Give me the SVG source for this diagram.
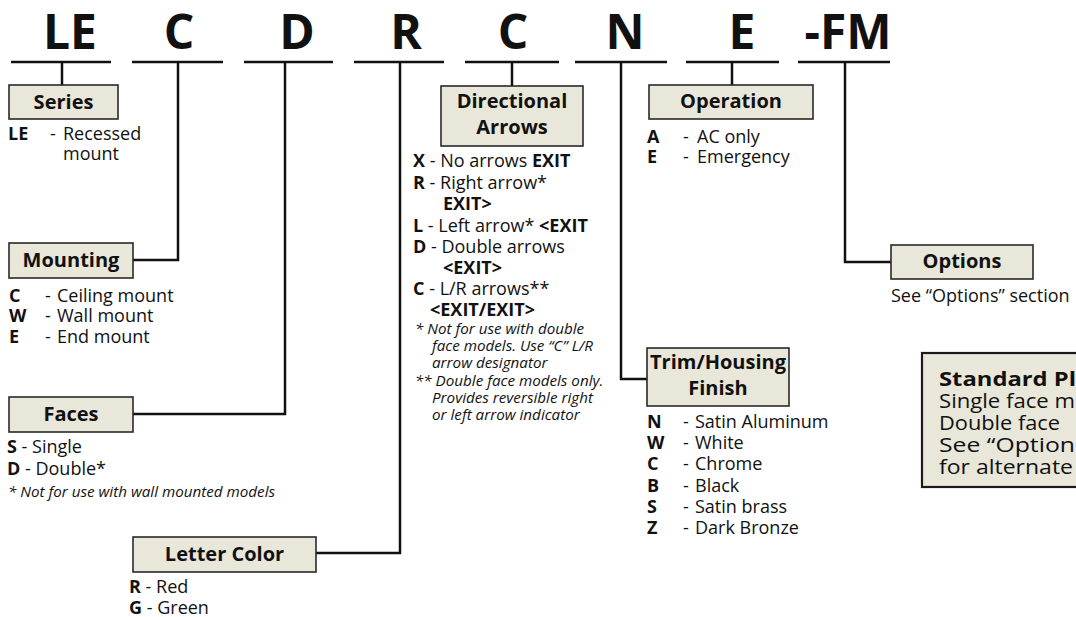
<svg xmlns="http://www.w3.org/2000/svg" width="1076" height="617" viewBox="0 0 1076 617">
  <style>
    text { font-family: "Open Sans", "Noto Sans", "Liberation Sans", sans-serif; fill: #111; }
    .hdr { font-size: 48px; font-weight: 700; text-anchor: middle; }
    .lbl { font-size: 20px; font-weight: 700; text-anchor: middle; }
    .it { font-size: 18px; }
    .b { font-weight: 700; }
    .fn { font-size: 15.2px; font-style: italic; }
    .pk { font-size: 20px; }
    .box { fill: #e9e7d9; stroke: #2a2a2a; stroke-width: 1.6; }
    .std { fill: #e9e7d9; stroke: #1a1a1a; stroke-width: 2.2; }
    .ln { fill: none; stroke: #111; stroke-width: 2.5; }
  </style>

  <!-- catalog code header -->
  <g id="header">
    <text class="hdr" x="70" y="49">LE</text>
    <text class="hdr" x="179" y="49">C</text>
    <text class="hdr" x="297" y="49">D</text>
    <text class="hdr" x="406" y="49">R</text>
    <text class="hdr" x="513" y="49">C</text>
    <text class="hdr" x="625" y="49">N</text>
    <text class="hdr" x="742" y="49">E</text>
    <text class="hdr" x="848" y="49">-FM</text>
  </g>

  <!-- underlines and leader lines -->
  <g id="connectors">
    <path class="ln" d="M11 62H111 M132 62H223 M244 62H333 M354 62H444 M465 62H559 M575 62H667 M686 62H779 M798 62H890"/>
    <path class="ln" d="M62 62V85"/>
    <path class="ln" d="M178 62V260H133"/>
    <path class="ln" d="M285 62V414H133"/>
    <path class="ln" d="M400 62V553H316"/>
    <path class="ln" d="M512 62V86"/>
    <path class="ln" d="M621 62V379H647"/>
    <path class="ln" d="M732 62V85"/>
    <path class="ln" d="M845 62V262H891"/>
  </g>

  <g id="series">
    <rect class="box" x="9" y="85" width="109" height="34"/>
    <text class="lbl" x="63.5" y="109">Series</text>
    <text class="it" y="140"><tspan class="b" x="8">LE</tspan><tspan x="50">-</tspan><tspan x="63">Recessed</tspan></text>
    <text class="it" x="63" y="160">mount</text>
  </g>

  <g id="mounting">
    <rect class="box" x="9" y="243" width="124" height="35"/>
    <text class="lbl" x="71" y="267">Mounting</text>
    <text class="it" y="302"><tspan class="b" x="9">C</tspan><tspan x="45">-</tspan><tspan x="57">Ceiling mount</tspan></text>
    <text class="it" y="322"><tspan class="b" x="9">W</tspan><tspan x="45">-</tspan><tspan x="57">Wall mount</tspan></text>
    <text class="it" y="343"><tspan class="b" x="9">E</tspan><tspan x="45">-</tspan><tspan x="57">End mount</tspan></text>
  </g>

  <g id="faces">
    <rect class="box" x="9" y="397" width="124" height="35"/>
    <text class="lbl" x="71" y="421">Faces</text>
    <text class="it" x="7" y="453"><tspan class="b">S</tspan> - Single</text>
    <text class="it" x="7" y="475"><tspan class="b">D</tspan> - Double*</text>
    <text class="fn" x="8" y="497">*  Not for use with wall mounted models</text>
  </g>

  <g id="letter-color">
    <rect class="box" x="133" y="537" width="183" height="35"/>
    <text class="lbl" x="224.5" y="561">Letter Color</text>
    <text class="it" x="129" y="593"><tspan class="b">R</tspan> - Red</text>
    <text class="it" x="129" y="614"><tspan class="b">G</tspan> - Green</text>
  </g>

  <g id="directional-arrows">
    <rect class="box" x="441" y="86" width="142" height="60"/>
    <text class="lbl" x="512" y="108">Directional</text>
    <text class="lbl" x="512" y="134">Arrows</text>
    <text class="it" x="413" y="167"><tspan class="b">X</tspan> - No arrows <tspan class="b">EXIT</tspan></text>
    <text class="it" x="413" y="189"><tspan class="b">R</tspan> - Right arrow*</text>
    <text class="it b" x="443" y="210">EXIT&gt;</text>
    <text class="it" x="413" y="232"><tspan class="b">L</tspan> - Left arrow* <tspan class="b">&lt;EXIT</tspan></text>
    <text class="it" x="413" y="253"><tspan class="b">D</tspan> - Double arrows</text>
    <text class="it b" x="443" y="274">&lt;EXIT&gt;</text>
    <text class="it" x="413" y="295"><tspan class="b">C</tspan> - L/R arrows**</text>
    <text class="it b" x="430" y="316">&lt;EXIT/EXIT&gt;</text>
    <text class="fn" x="415" y="334">*  Not for use with double</text>
    <text class="fn" x="432" y="351">face models.  Use “C” L/R</text>
    <text class="fn" x="432" y="368">arrow designator</text>
    <text class="fn" x="415" y="386">**  Double face models only.</text>
    <text class="fn" x="432" y="403">Provides reversible right</text>
    <text class="fn" x="432" y="420">or left arrow indicator</text>
  </g>

  <g id="operation">
    <rect class="box" x="649" y="85" width="164" height="34"/>
    <text class="lbl" x="731" y="108">Operation</text>
    <text class="it" y="143"><tspan class="b" x="647">A</tspan><tspan x="683">-</tspan><tspan x="697">AC only</tspan></text>
    <text class="it" y="163"><tspan class="b" x="647">E</tspan><tspan x="683">-</tspan><tspan x="697">Emergency</tspan></text>
  </g>

  <g id="trim-housing-finish">
    <rect class="box" x="647" y="348" width="142" height="58"/>
    <text class="lbl" x="718" y="369">Trim/Housing</text>
    <text class="lbl" x="718" y="395">Finish</text>
    <text class="it" y="428"><tspan class="b" x="647">N</tspan><tspan x="683">-</tspan><tspan x="695">Satin Aluminum</tspan></text>
    <text class="it" y="449"><tspan class="b" x="647">W</tspan><tspan x="683">-</tspan><tspan x="695">White</tspan></text>
    <text class="it" y="470"><tspan class="b" x="647">C</tspan><tspan x="683">-</tspan><tspan x="695">Chrome</tspan></text>
    <text class="it" y="492"><tspan class="b" x="647">B</tspan><tspan x="683">-</tspan><tspan x="695">Black</tspan></text>
    <text class="it" y="513"><tspan class="b" x="647">S</tspan><tspan x="683">-</tspan><tspan x="695">Satin brass</tspan></text>
    <text class="it" y="534"><tspan class="b" x="647">Z</tspan><tspan x="683">-</tspan><tspan x="695">Dark Bronze</tspan></text>
  </g>

  <g id="options">
    <rect class="box" x="891" y="245" width="142" height="34"/>
    <text class="lbl" x="962" y="268">Options</text>
    <text class="it" x="891" y="302">See “Options” section</text>
  </g>

  <g id="standard-package">
    <rect class="std" x="922" y="353" width="170" height="134"/>
    <text class="pk b" x="939" y="386" textLength="137" lengthAdjust="spacingAndGlyphs">Standard Pl</text>
    <text class="pk" x="939" y="408" textLength="136" lengthAdjust="spacingAndGlyphs">Single face m</text>
    <text class="pk" x="939" y="430" textLength="121" lengthAdjust="spacingAndGlyphs">Double face</text>
    <text class="pk" x="939" y="452" textLength="136" lengthAdjust="spacingAndGlyphs">See “Option</text>
    <text class="pk" x="939" y="474" textLength="134" lengthAdjust="spacingAndGlyphs">for alternate</text>
  </g>
</svg>
